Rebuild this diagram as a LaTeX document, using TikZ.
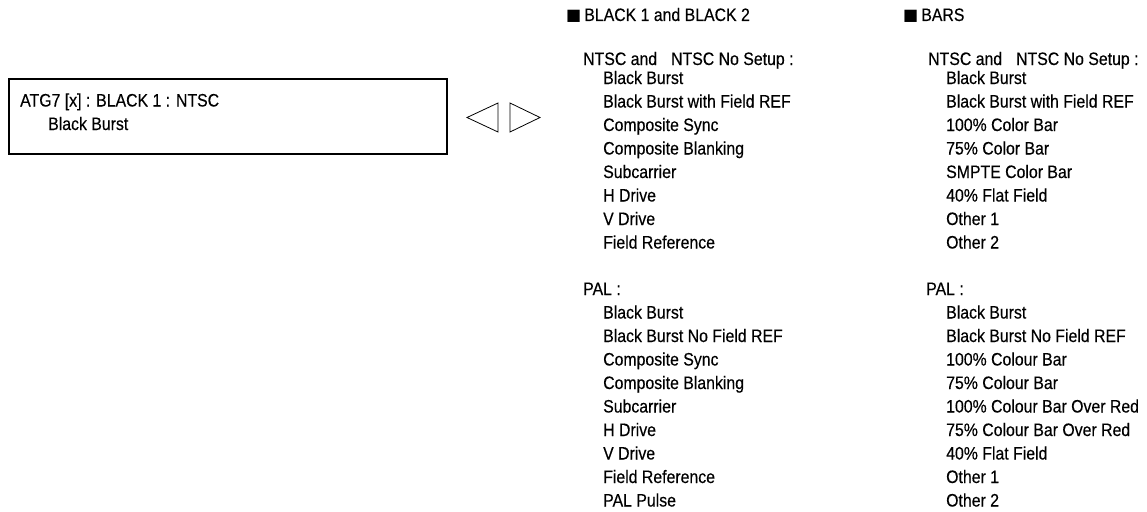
\documentclass[tikz,border=0pt]{standalone}
\usepackage{fontspec}
\setmainfont{Liberation Sans}[FakeStretch=0.88,FakeBold=0.35]
\newfontfamily\symfont{DejaVu Sans}
\begin{document}
\begin{tikzpicture}[x=1pt,y=-1pt,
  txt/.style={anchor=base west,inner sep=0pt,font=\fontsize{18}{20}\selectfont},
  framebox/.style={draw,line width=2pt},
  tri/.style={draw,line width=0.8pt,line join=miter}]
\useasboundingbox (0,0) rectangle (1147,511);
% display box
\node[framebox,minimum width=438,minimum height=75,anchor=north west,inner sep=0pt] (box) at (8,78) {};
\node[txt] (l1) at (20,106.5) {ATG7 [x] : BLACK 1 : NTSC};
\node[txt] (l2) at (48,130) {Black Burst};
% arrows
\draw[tri] (498,103) -- (467,117.5) -- (498,132) -- cycle;
\draw[tri] (510,103) -- (540,117.5) -- (510,132) -- cycle;
% column 1
\node[txt] (h1) at (566,21) {{\symfont\fontsize{16}{18}\selectfont ■}\,BLACK 1 and BLACK 2};
\node[txt] (n1) at (583,65) {NTSC and\hspace{14pt}NTSC No Setup :};
\foreach \t [count=\i from 0] in {Black Burst,Black Burst with Field REF,Composite Sync,Composite Blanking,Subcarrier,H Drive,V Drive,Field Reference}
  \node[txt] (a\i) at (603,84+23.5*\i) {\t};
\node[txt] (p1) at (583,295) {PAL :};
\foreach \t [count=\i from 0] in {Black Burst,Black Burst No Field REF,Composite Sync,Composite Blanking,Subcarrier,H Drive,V Drive,Field Reference,PAL Pulse}
  \node[txt] (b\i) at (603,318.5+23.5*\i) {\t};
% column 2
\node[txt] (h2) at (903,21) {{\symfont\fontsize{16}{18}\selectfont ■}\,BARS};
\node[txt] (n2) at (928,65) {NTSC and\hspace{14pt}NTSC No Setup :};
\foreach \t [count=\i from 0] in {Black Burst,Black Burst with Field REF,100\% Color Bar,75\% Color Bar,SMPTE Color Bar,40\% Flat Field,Other 1,Other 2}
  \node[txt] (c\i) at (946,84+23.5*\i) {\t};
\node[txt] (p2) at (926,295) {PAL :};
\foreach \t [count=\i from 0] in {Black Burst,Black Burst No Field REF,100\% Colour Bar,75\% Colour Bar,100\% Colour Bar Over Red,75\% Colour Bar Over Red,40\% Flat Field,Other 1,Other 2}
  \node[txt] (d\i) at (946,318.5+23.5*\i) {\t};
\end{tikzpicture}
\end{document}
